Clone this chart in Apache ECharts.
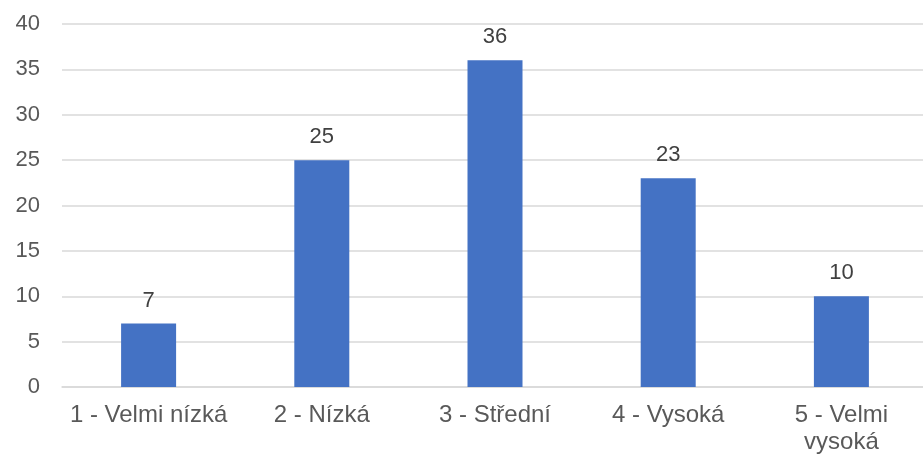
<!DOCTYPE html>
<html>
<head>
<meta charset="utf-8">
<script src="https://cdn.jsdelivr.net/npm/echarts@6/dist/echarts.min.js"></script>
<style>
html,body{margin:0;padding:0;background:#fff;overflow:hidden;}
#chart{width:923px;height:455px;}
</style>
</head>
<body>
<div id="chart"></div>
<script>
// Rating categories and how many respondents chose each
const categories = ['1 - Velmi nízká', '2 - Nízká', '3 - Střední', '4 - Vysoká', '5 - Velmi\nvysoká'];
const counts = [7, 25, 36, 23, 10];
const yTicks = { min: 0, max: 40, interval: 5 };

const chart = echarts.init(document.getElementById('chart'), null, { renderer: 'canvas' });
const font = 'Liberation Sans, Arial, Helvetica, sans-serif';

chart.setOption({
  animation: false,
  // the plot runs a little past the right edge of the canvas
  grid: { left: 62, width: 866, top: 24, height: 363, outerBoundsMode: 'none', containLabel: false },
  xAxis: {
    type: 'category',
    data: categories,
    axisLine: { show: true, lineStyle: { color: '#D9D9D9', width: 1.5 } },
    axisTick: { show: false },
    axisLabel: {
      color: '#595959', fontSize: 24, fontFamily: font,
      margin: 15, lineHeight: 27, interval: 0
    }
  },
  yAxis: {
    type: 'value',
    min: yTicks.min, max: yTicks.max, interval: yTicks.interval,
    axisLine: { show: false },
    axisTick: { show: false },
    splitLine: { lineStyle: { color: '#D9D9D9', width: 1.5 } },
    axisLabel: { color: '#595959', fontSize: 22, fontFamily: font, margin: 22 }
  },
  series: [{
    type: 'bar',
    data: counts,
    barWidth: 55,
    itemStyle: { color: '#4472C4' },
    label: {
      show: true, position: 'top', distance: 12,
      color: '#404040', fontSize: 22, fontFamily: font
    }
  }]
});
</script>
</body>
</html>
